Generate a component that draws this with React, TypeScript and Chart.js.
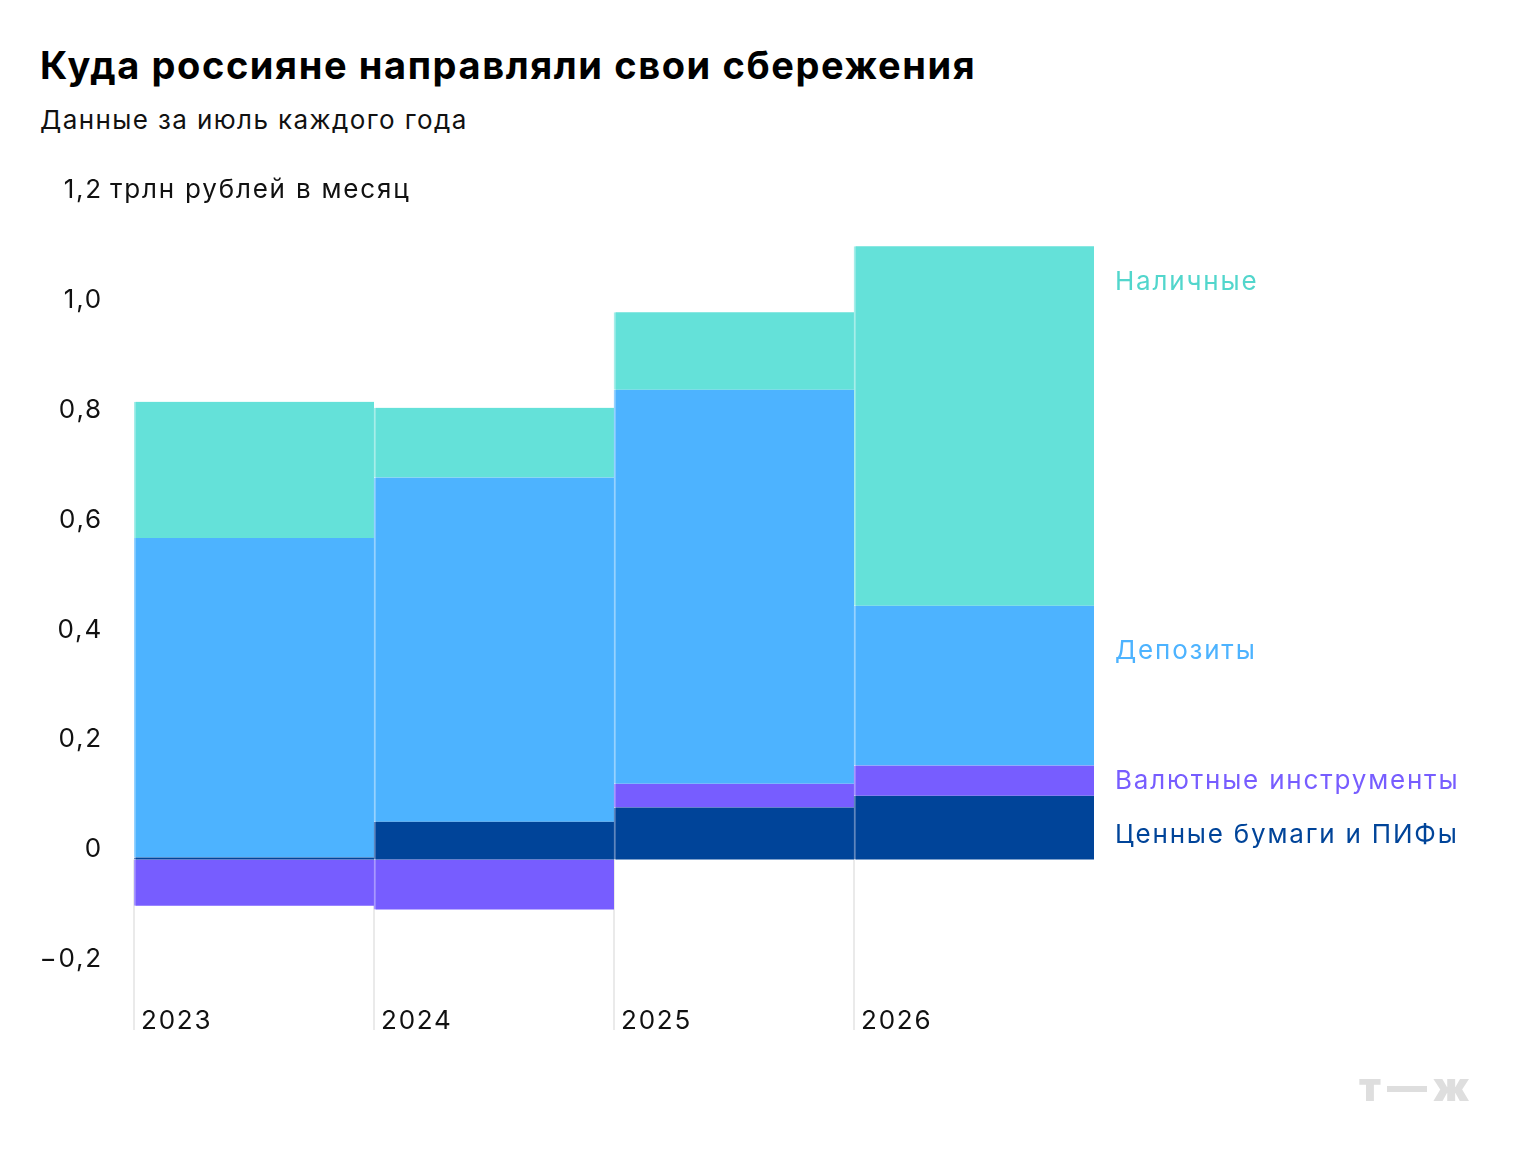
import { useEffect, useRef } from 'react';
import { Chart, registerables } from 'chart.js';

Chart.register(...registerables);

const years = ['2023', '2024', '2025', '2026'];

// трлн рублей, июль каждого года
const securities = [0.004, 0.069, 0.095, 0.116];
const currency = [-0.084, -0.091, 0.043, 0.055];
const deposits = [0.581, 0.626, 0.717, 0.291];
const cash = [0.248, 0.127, 0.141, 0.654];

const yTicks = [-0.2, 0, 0.2, 0.4, 0.6, 0.8, 1.0, 1.2];

const seriesNames = ['Ценные бумаги и ПИФы', 'Валютные инструменты', 'Депозиты', 'Наличные'];
// where the right-hand labels sit, in axis units
const labelLevels = [0.031, 0.129, 0.365, 1.036];

const FONT = 'Inter, "Noto Sans", sans-serif';
const SPACING = '1.8px';
const colors = ['#004499', '#775DFF', '#4DB3FF', '#64E1D9'];
const edgeColors = ['#5F86BD', '#A898FF', '#96D2FF', '#A6EEE9'];
const labelColors = ['#004499', '#775DFF', '#4DB3FF', '#52D6CC'];

const fmt = (v: number) =>
  v === 0 ? '0' : (v < 0 ? '−' : '') + Math.abs(v).toFixed(1).replace('.', ',');

const annotations = {
  id: 'annotations',
  beforeDraw(chart: any) {
    (chart.ctx as any).letterSpacing = SPACING;
  },
  beforeDatasetsDraw(chart: any) {
    const { ctx, chartArea, scales } = chart;
    const x = scales.x;
    const y = scales.y;
    const half = (x.getPixelForValue(1) - x.getPixelForValue(0)) / 2;
    ctx.save();
    ctx.strokeStyle = '#e3e3e3';
    ctx.lineWidth = 1.5;
    years.forEach((_, i) => {
      const px = x.getPixelForValue(i) - half;
      ctx.beginPath();
      ctx.moveTo(px, y.getPixelForValue(0));
      ctx.lineTo(px, chartArea.bottom);
      ctx.stroke();
    });
    ctx.restore();
  },
  afterDatasetsDraw(chart: any) {
    const { ctx, chartArea, scales } = chart;
    const x = scales.x;
    const y = scales.y;
    const half = (x.getPixelForValue(1) - x.getPixelForValue(0)) / 2;
    ctx.save();
    ctx.letterSpacing = SPACING;
    ctx.font = `26px ${FONT}`;
    ctx.textBaseline = 'alphabetic';
    ctx.textAlign = 'left';
    ctx.fillStyle = '#111';
    years.forEach((yr, i) => {
      ctx.fillText(yr, x.getPixelForValue(i) - half + 7, chartArea.bottom - 1);
    });
    seriesNames.forEach((name, i) => {
      ctx.fillStyle = labelColors[i];
      ctx.fillText(name, chartArea.right + 21, y.getPixelForValue(labelLevels[i]));
    });
    // unit after the top tick label
    ctx.fillStyle = '#111';
    ctx.textBaseline = 'middle';
    const topY = y.getPixelForValue(yTicks[yTicks.length - 1]) - 10;
    ctx.fillText('трлн рублей в месяц', 110, topY);
    ctx.restore();
  },
};

export default function App() {
  const canvasRef = useRef<HTMLCanvasElement>(null);
  const chartRef = useRef<Chart | null>(null);

  useEffect(() => {
    if (!canvasRef.current) return;
    if (chartRef.current) chartRef.current.destroy();

    const sets = [securities, currency, deposits, cash];

    chartRef.current = new Chart(canvasRef.current, {
      type: 'bar',
      data: {
        labels: years,
        datasets: sets.map((d, i) => ({
          label: seriesNames[i],
          data: d,
          backgroundColor: colors[i],
          borderColor: edgeColors[i],
          borderWidth: { left: 2, top: 0, right: 0, bottom: 0 },
          borderSkipped: false,
          barPercentage: 1,
          categoryPercentage: 1,
        })),
      },
      options: {
        animation: false,
        responsive: true,
        maintainAspectRatio: false,
        layout: { padding: { left: 0, right: 426, top: 200, bottom: 130 } },
        plugins: {
          legend: { display: false },
          tooltip: { enabled: false },
        },
        scales: {
          x: {
            display: false,
            stacked: true,
          },
          y: {
            stacked: true,
            min: -0.31,
            max: 1.2,
            grid: { display: false },
            border: { display: false },
            afterBuildTicks: (scale: any) => {
              scale.ticks = yTicks.map((v) => ({ value: v }));
            },
            afterFit: (scale: any) => {
              scale.width = 134;
            },
            ticks: {
              color: '#111',
              padding: 23,
              labelOffset: -10,
              font: { family: FONT, size: 26 },
              callback: (v: any) => fmt(Number(v)),
            },
          },
        },
      },
      plugins: [annotations],
    });

    return () => {
      chartRef.current?.destroy();
    };
  }, []);

  return (
    <div style={{ position: 'absolute', left: 0, top: 0, width: 1520, height: 1160, background: '#fff', fontFamily: FONT }}>
      <div style={{ position: 'absolute', left: 40, top: 42, fontSize: 38, fontWeight: 700, color: '#000', whiteSpace: 'nowrap', letterSpacing: 1.6 }}>
        Куда россияне направляли свои сбережения
      </div>
      <div style={{ position: 'absolute', left: 40, top: 104, fontSize: 26, color: '#111', whiteSpace: 'nowrap', letterSpacing: 1.4 }}>
        Данные за июль каждого года
      </div>
      <div style={{ position: 'absolute', left: 0, top: 0, width: 1520, height: 1160 }}>
        <canvas ref={canvasRef} />
      </div>
      <div style={{ position: 'absolute', left: 1359, top: 1062, fontSize: 40, fontWeight: 900, color: '#dedede', whiteSpace: 'nowrap', letterSpacing: 6 }}>
        т—ж
      </div>
    </div>
  );
}
